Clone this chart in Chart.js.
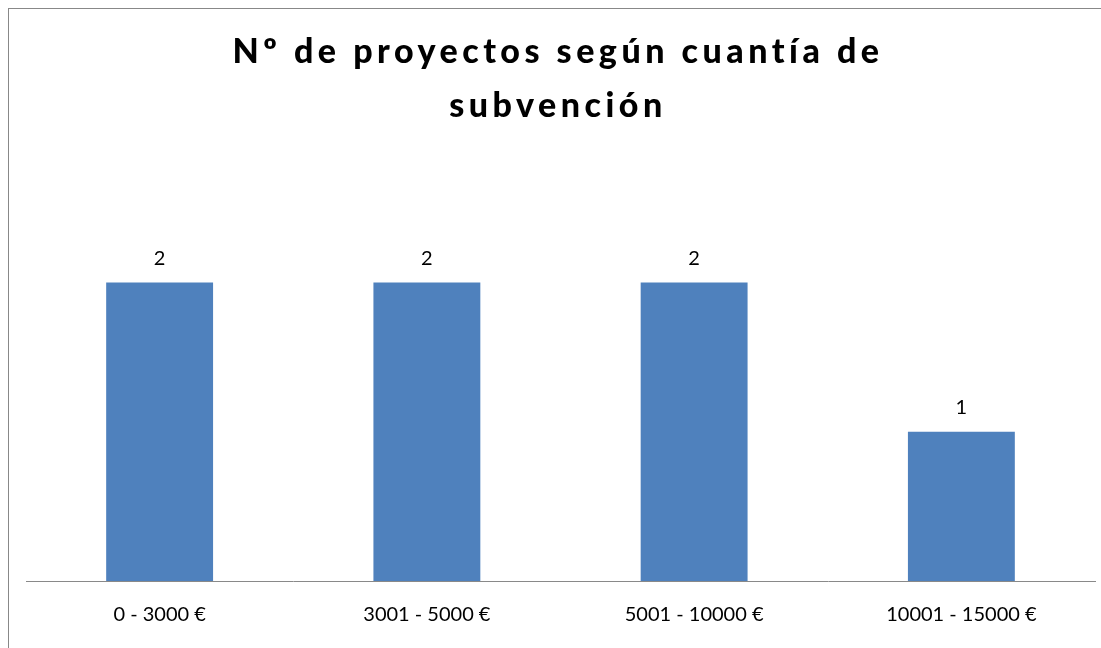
<!DOCTYPE html>
<html>
<head>
<meta charset="utf-8">
<script src="https://cdn.jsdelivr.net/npm/chart.js@4/dist/chart.umd.min.js"></script>
<style>
  body { margin: 0; background: #fff; }
  #wrap { position: relative; width: 1101px; height: 648px; overflow: hidden; }
  #frame { position: absolute; left: 8px; top: 8px; width: 1110px; height: 660px; border: 1px solid #888; box-sizing: border-box; }
  #titulo { position: absolute; left: 0; top: 23px; width: 1116px; text-align: center;
    font-family: Lato, sans-serif; font-weight: 900; font-size: 34px; line-height: 54px; letter-spacing: 4.5px; color: #000; }
  canvas { position: absolute; left: 0; top: 0; }
</style>
</head>
<body>
<div id="wrap">
  <div id="frame"></div>
  <canvas id="myChart" width="1101" height="648"></canvas>
  <div id="titulo">Nº de proyectos según cuantía de<br>subvención</div>
</div>
<script>
// datos
const categorias = ['0 - 3000 €', '3001 - 5000 €', '5001 - 10000 €', '10001 - 15000 €'];
const proyectos = [2, 2, 2, 1];

// etiquetas encima de las barras
const etiquetas = {
  id: 'etiquetas',
  afterDatasetsDraw(chart) {
    const ctx = chart.ctx;
    ctx.save();
    ctx.font = '20px Lato, sans-serif';
    ctx.fillStyle = '#000';
    ctx.textAlign = 'center';
    ctx.textBaseline = 'middle';
    chart.getDatasetMeta(0).data.forEach((bar, i) => {
      ctx.fillText(proyectos[i], bar.x, bar.y - 24);
    });
    ctx.restore();
  }
};

const ctx = document.getElementById('myChart');

new Chart(ctx, {
  type: 'bar',
  data: {
    labels: categorias,
    datasets: [{
      data: proyectos,
      backgroundColor: '#4F81BD',
      barPercentage: 0.8,
      categoryPercentage: 0.5
    }]
  },
  options: {
    responsive: false,
    animation: false,
    layout: { padding: { left: 26, right: 6, top: 208, bottom: 0 } },
    plugins: { legend: { display: false }, tooltip: { enabled: false } },
    scales: {
      x: {
        grid: { display: false, drawTicks: false },
        border: { color: '#898989', width: 1 },
        ticks: { color: '#000', font: { family: 'Lato, sans-serif', size: 20 }, padding: 22, maxRotation: 0 },
        afterFit(scale) { scale.height = 67; }
      },
      y: {
        display: false,
        min: 0,
        max: 2.5
      }
    }
  },
  plugins: [etiquetas]
});
</script>
</body>
</html>
